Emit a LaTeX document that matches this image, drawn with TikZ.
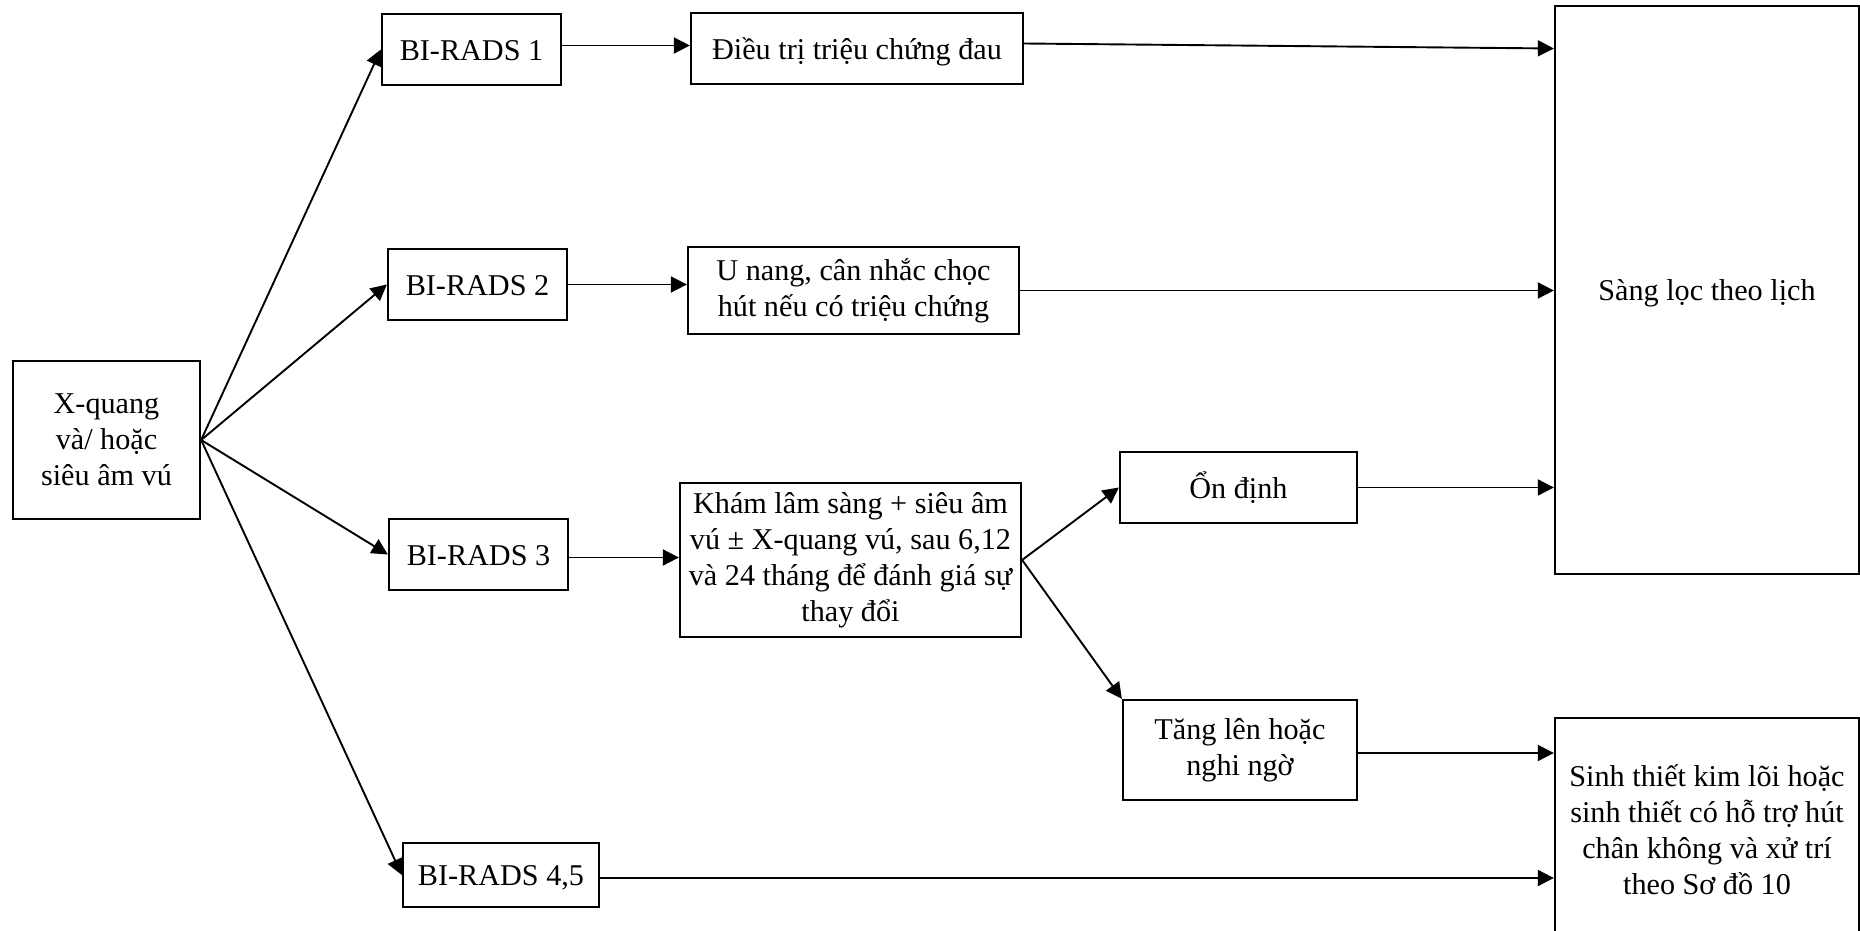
\documentclass[tikz,border=0pt]{standalone}
\usepackage{fontspec}
\setmainfont{Liberation Serif}
\usetikzlibrary{arrows.meta}
\begin{document}
\begin{tikzpicture}[x=0.5pt,y=-0.5pt,
  box/.style={draw, line width=1.15pt, inner sep=0pt, align=center,
              font=\fontsize{15.1}{18}\selectfont},
  oneline/.style={box, text height=12.8pt, text depth=2pt},
  conn/.style={line width=0.95pt, -{Triangle[length=8pt,width=8pt]}}]
\useasboundingbox (0,0) rectangle (1860,931);

% starting examination
\node[box, minimum width=93.5pt, minimum height=79pt] (xq) at (106.5,440) {X-quang\\và/ hoặc\\siêu âm vú};

% BI-RADS categories
\node[oneline, minimum width=89.5pt, minimum height=35.5pt] (b1) at (471.5,49.5) {BI-RADS 1};
\node[oneline, minimum width=89.5pt, minimum height=35.5pt] (b2) at (477.5,284.5) {BI-RADS 2};
\node[oneline, minimum width=89.5pt, minimum height=35.5pt] (b3) at (478.5,554.5) {BI-RADS 3};
\node[oneline, minimum width=98pt, minimum height=32pt] (b45) at (501,875) {BI-RADS 4,5};

% management steps
\node[oneline, minimum width=166pt, minimum height=35.5pt] (dt) at (857,48.5) {Điều trị triệu chứng đau};
\node[box, minimum width=165.5pt, minimum height=43.5pt] (un) at (853.5,290.5) {U nang, cân nhắc chọc\\hút nếu có triệu chứng};
\node[box, minimum width=170.5pt, minimum height=77pt] (kh) at (850.5,560) {Khám lâm sàng + siêu âm\\vú ± X-quang vú, sau 6,12\\và 24 tháng để đánh giá sự\\thay đổi};
\node[oneline, minimum width=118.5pt, minimum height=35.5pt] (od) at (1238.5,487.5) {Ổn định};
\node[box, minimum width=117pt, minimum height=50pt] (tl) at (1240,750) {Tăng lên hoặc\\nghi ngờ};

% outcomes
\node[oneline, minimum width=152pt, minimum height=284pt] (sl) at (1707,290) {Sàng lọc theo lịch};
\node[box, minimum width=152pt, minimum height=112pt] (st) at (1707,830) {Sinh thiết kim lõi hoặc\\sinh thiết có hỗ trợ hút\\chân không và xử trí\\theo Sơ đồ 10};

% connectors
\draw[conn] (xq.east) -- (b1.west);
\draw[conn] (xq.east) -- (b2.west);
\draw[conn] (xq.east) -- (b3.west);
\draw[conn] (xq.east) -- (b45.west);

\draw[conn] ([yshift=2pt]b1.east) -- ([yshift=2pt]b1.east -| dt.west);
\draw[conn] ([yshift=2.5pt]dt.east) -- (dt.east -| sl.west);
\draw[conn] (b2.east) -- (b2.east -| un.west);
\draw[conn] (un.east) -- (un.east -| sl.west);
\draw[conn] ([yshift=-1.5pt]b3.east) -- ([yshift=-1.5pt]b3.east -| kh.west);
\draw[conn] (kh.east) -- (od.west);
\draw[conn] (kh.east) -- (tl.north west);
\draw[conn] (od.east) -- (od.east -| sl.west);
\draw[conn] ([yshift=-1.5pt]tl.east) -- ([yshift=-1.5pt]tl.east -| st.west);
\draw[conn] ([yshift=-1.5pt]b45.east) -- ([yshift=-1.5pt]b45.east -| st.west);
\end{tikzpicture}
\end{document}
